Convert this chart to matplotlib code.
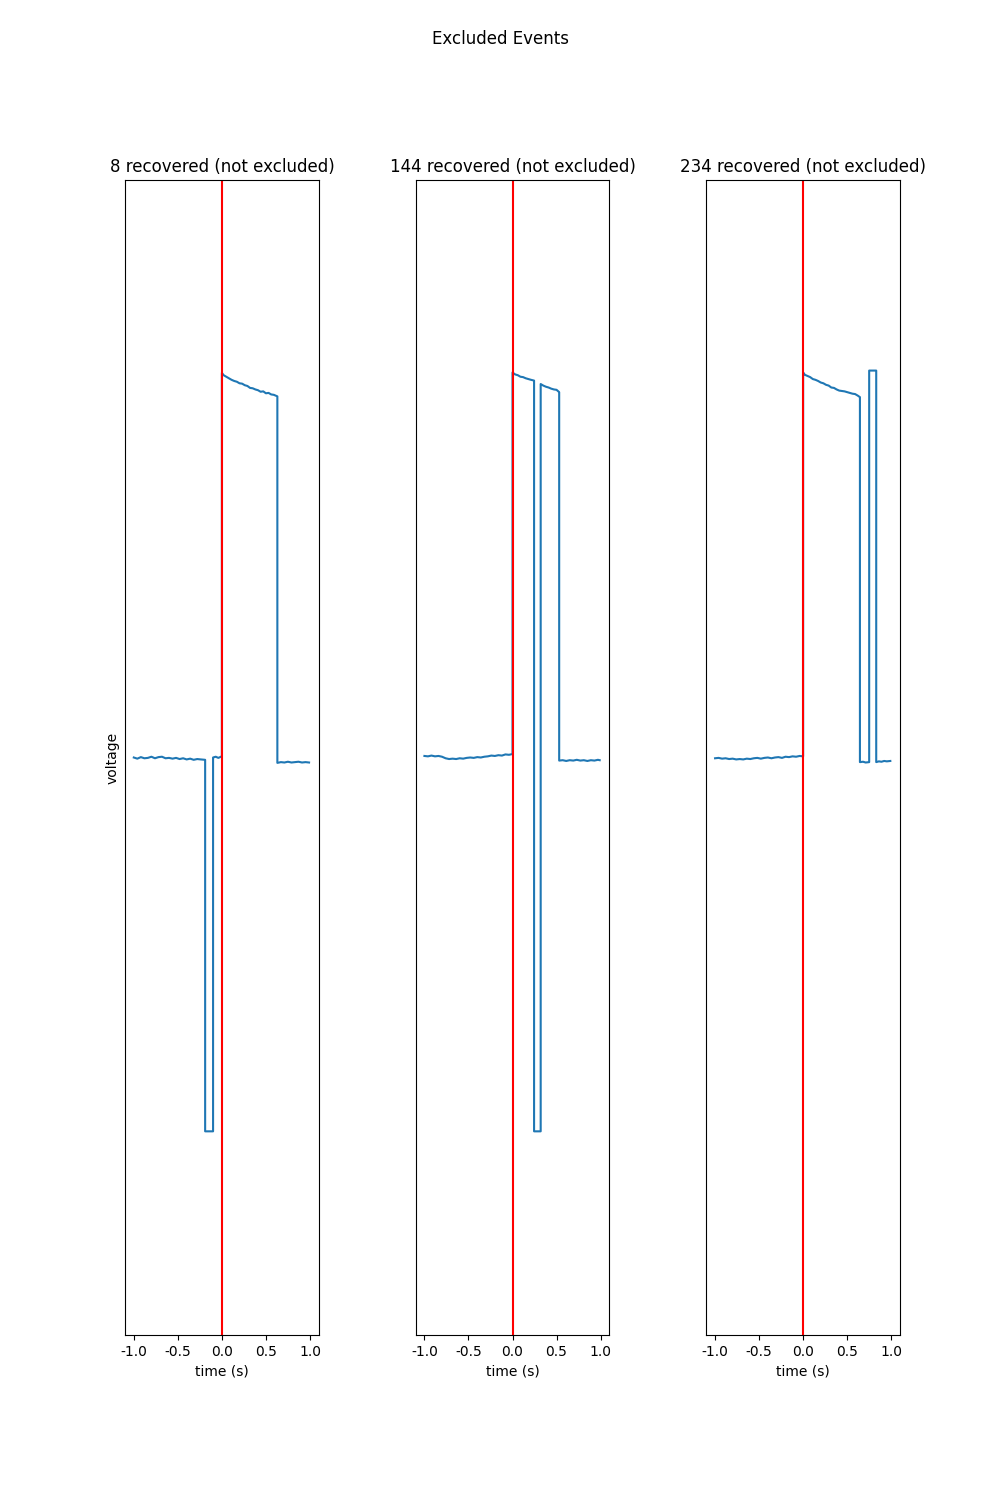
import matplotlib
matplotlib.use("Agg")
import matplotlib.pyplot as plt

plt.rcParams['axes.unicode_minus'] = False

titles = ["8 recovered (not excluded)", "144 recovered (not excluded)", "234 recovered (not excluded)"]
xticks = [-1.0, -0.5, 0.0, 0.5, 1.0]
xticklabels = ["-1.0", "-0.5", "0.0", "0.5", "1.0"]

# ---- event 8 ----
t8 = [-1.00, -0.96, -0.92, -0.88, -0.84, -0.80, -0.76, -0.72, -0.68, -0.64, -0.60,
      -0.56, -0.52, -0.48, -0.44, -0.40, -0.36, -0.32, -0.28, -0.24, -0.19,
      -0.19, -0.10,
      -0.10, -0.07, -0.04, -0.01, 0.00,
      0.00, 0.02, 0.05, 0.08, 0.11, 0.14, 0.17, 0.20, 0.23, 0.26, 0.29, 0.32, 0.35,
      0.38, 0.41, 0.44, 0.47, 0.50, 0.53, 0.56, 0.59, 0.63,
      0.63, 0.67, 0.71, 0.75, 0.79, 0.83, 0.87, 0.91, 0.95, 0.99]
v8 = [0.000, -0.003, 0.001, -0.002, -0.001, 0.002, -0.002, 0.001, 0.002, -0.002, -0.001,
      -0.003, -0.001, -0.004, -0.002, -0.005, -0.003, -0.006, -0.004, -0.005, -0.006,
      -0.971, -0.971,
      0.000, 0.002, -0.001, 0.002, 0.003,
      0.999, 0.993, 0.989, 0.985, 0.981, 0.978, 0.976, 0.972, 0.971, 0.967, 0.965, 0.960, 0.959,
      0.956, 0.954, 0.950, 0.951, 0.946, 0.947, 0.943, 0.942, 0.938,
      -0.014, -0.012, -0.013, -0.011, -0.013, -0.012, -0.011, -0.013, -0.012, -0.013]

# ---- event 144 ----
t144 = [-1.00, -0.96, -0.92, -0.88, -0.84, -0.80, -0.76, -0.72, -0.68, -0.64, -0.60,
        -0.56, -0.52, -0.48, -0.44, -0.40, -0.36, -0.32, -0.28, -0.24, -0.20,
        -0.16, -0.12, -0.08, -0.04, 0.00,
        0.00, 0.03, 0.06, 0.09, 0.12, 0.15, 0.18, 0.21, 0.245,
        0.245, 0.32,
        0.32, 0.35, 0.38, 0.41, 0.44, 0.47, 0.50, 0.53,
        0.53, 0.57, 0.61, 0.65, 0.69, 0.73, 0.77, 0.81, 0.85, 0.89, 0.93, 0.97, 0.99]
v144 = [0.004, 0.003, 0.005, 0.003, 0.004, 0.002, -0.002, -0.004, -0.003, -0.004, -0.002,
        -0.003, -0.001, 0.000, -0.001, 0.001, 0.000, 0.002, 0.003, 0.005, 0.004,
        0.006, 0.005, 0.008, 0.007, 0.009,
        1.000, 0.995, 0.993, 0.989, 0.988, 0.985, 0.983, 0.981, 0.979,
        -0.971, -0.971,
        0.970, 0.966, 0.963, 0.961, 0.958, 0.956, 0.955, 0.949,
        -0.008, -0.007, -0.009, -0.007, -0.008, -0.006, -0.008, -0.007, -0.009, -0.007, -0.008, -0.006, -0.007]

# ---- event 234 ----
t234 = [-1.00, -0.96, -0.92, -0.88, -0.84, -0.80, -0.76, -0.72, -0.68, -0.64, -0.60,
        -0.56, -0.52, -0.48, -0.44, -0.40, -0.36, -0.32, -0.28, -0.24, -0.20,
        -0.16, -0.12, -0.08, -0.04, 0.00,
        0.00, 0.02, 0.05, 0.08, 0.11, 0.14, 0.17, 0.20, 0.23, 0.26, 0.29, 0.32, 0.35,
        0.38, 0.41, 0.44, 0.47, 0.50, 0.53, 0.56, 0.59, 0.62, 0.645,
        0.645, 0.68, 0.71, 0.75,
        0.75, 0.83,
        0.83, 0.86, 0.89, 0.92, 0.95, 0.99]
v234 = [-0.002, -0.001, -0.003, -0.002, -0.004, -0.003, -0.005, -0.004, -0.005, -0.003, -0.004,
        -0.002, -0.001, -0.003, -0.001, 0.000, -0.002, 0.000, 0.001, -0.001, 0.002,
        0.001, 0.003, 0.002, 0.004, 0.003,
        1.000, 0.994, 0.991, 0.988, 0.983, 0.981, 0.978, 0.974, 0.972, 0.968, 0.966, 0.961, 0.960,
        0.956, 0.953, 0.952, 0.951, 0.949, 0.947, 0.945, 0.944, 0.940, 0.936,
        -0.012, -0.011, -0.013, -0.012,
        1.005, 1.005,
        -0.012, -0.010, -0.011, -0.009, -0.010, -0.009]

times = [t8, t144, t234]
values = [v8, v144, v234]

fig, axes = plt.subplots(1, 3, figsize=(10, 15), dpi=100)
fig.subplots_adjust(left=0.125, right=0.9, bottom=0.11, top=0.88, wspace=0.5)
fig.suptitle("Excluded Events")

for i, ax in enumerate(axes):
    ax.plot(times[i], values[i], color="#1f77b4", linewidth=1.5)
    ax.axvline(0, color="red")
    ax.set_ylim(-1.5, 1.5)
    ax.set_xlim(-1.1, 1.1)
    ax.set_yticks([])
    ax.set_xticks(xticks)
    ax.set_xticklabels(xticklabels)
    ax.set_xlabel("time (s)")
    ax.set_title(titles[i])
axes[0].set_ylabel("voltage")

fig.savefig("out.png", dpi=100)
